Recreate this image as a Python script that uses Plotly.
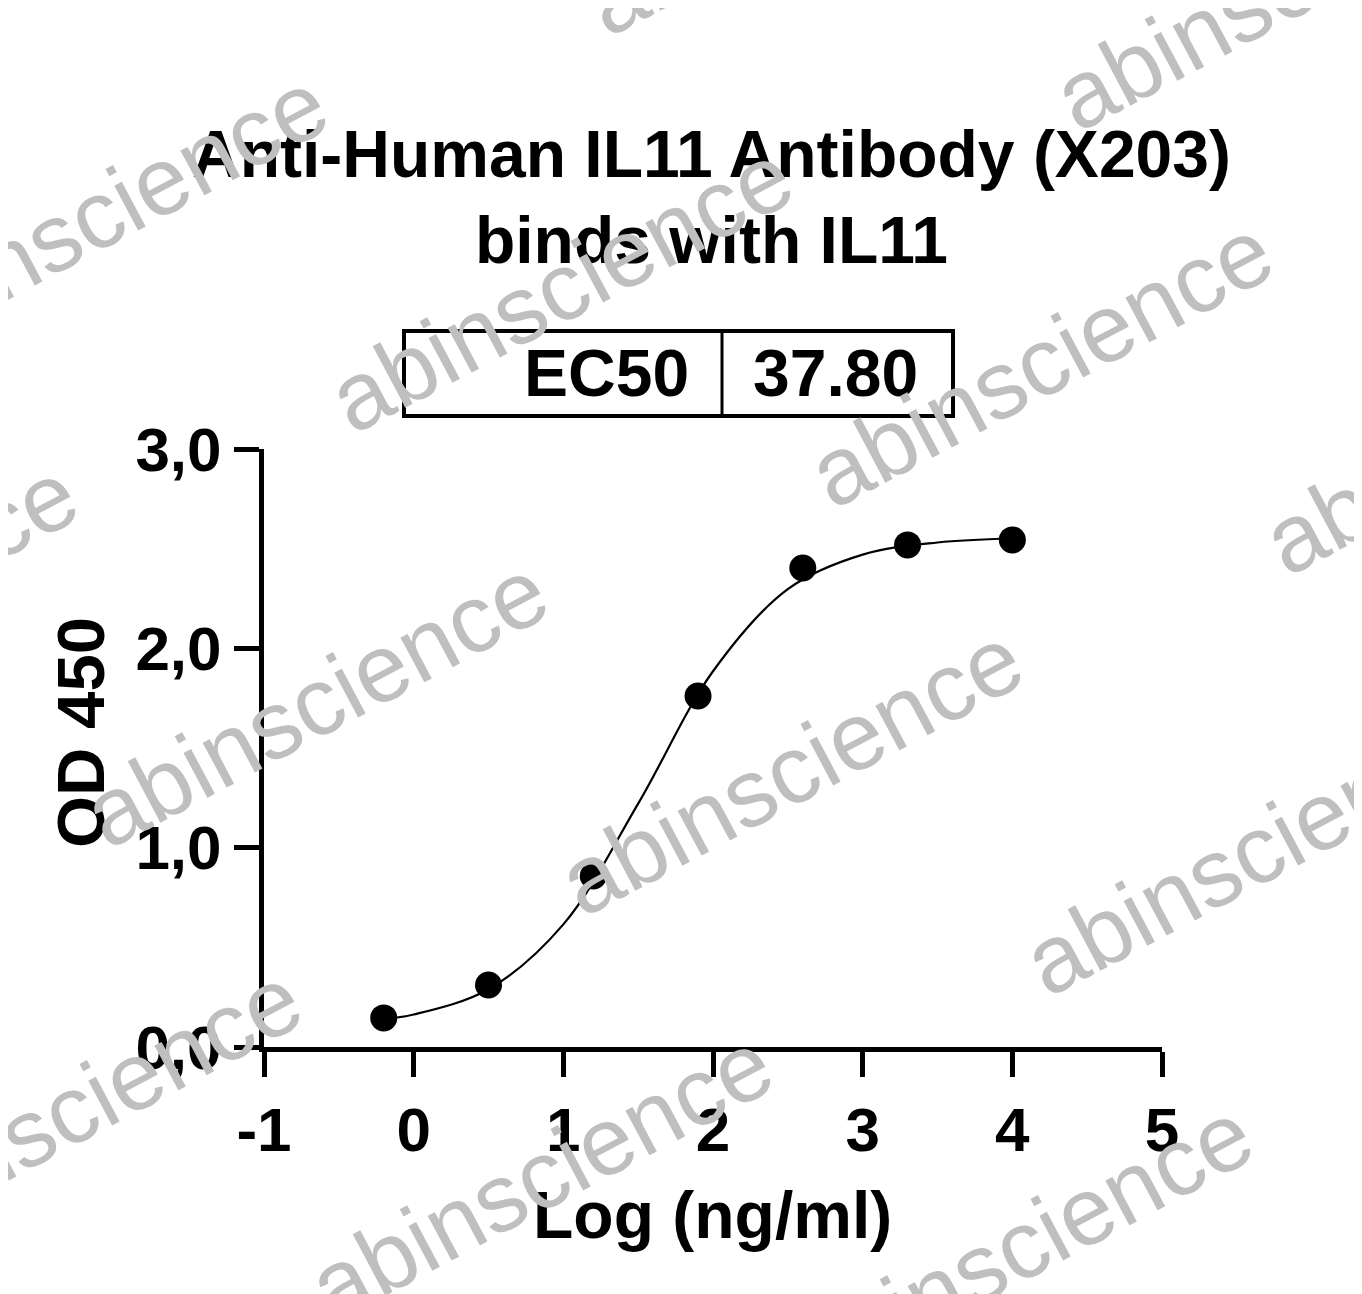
import plotly.graph_objects as go

# measured points (log concentration vs OD450)
log_conc = [-0.2, 0.5, 1.2, 1.9, 2.6, 3.3, 4.0]
od450 = [0.146, 0.311, 0.858, 1.761, 2.403, 2.519, 2.544]

# fitted curve
curve_x = [-0.2, 0.0, 0.5, 1.0, 1.5, 2.0, 2.5, 3.0, 3.5, 4.0]
curve_y = [0.140, 0.163, 0.290, 0.615, 1.221, 1.885, 2.297, 2.470, 2.531, 2.551]

x_ticks = [-1, 0, 1, 2, 3, 4, 5]
x_ticklabels = ["-1", "0", "1", "2", "3", "4", "5"]
y_ticks = [0, 1, 2, 3]
y_ticklabels = ["0,0", "1,0", "2,0", "3,0"]

ec50_label = "EC50"
ec50_value = "37.80"

# page has an 8px body margin, so everything is laid out in page pixels minus 8
OFF = 8
W, H = 1362 - OFF, 1294 - OFF
L, R, T, B = 264, 1162, 449, 1047


def px(x, y):
    # page pixel position -> paper coords
    return (x - L) / (R - L), (B - y) / (B - T)


fig = go.Figure()
fig.add_trace(go.Scatter(x=curve_x, y=curve_y, mode="lines", line=dict(color="black", width=2.2, shape="spline"),
                         showlegend=False, hoverinfo="skip"))
fig.add_trace(go.Scatter(x=log_conc, y=od450, mode="markers", marker=dict(color="black", size=27),
                         showlegend=False, cliponaxis=False))

font_b = "Liberation Sans"

annotations = []
tx, ty = px(711, 197)
annotations.append(dict(x=tx, y=ty, xref="paper", yref="paper", showarrow=False,
                        text="<b>Anti-Human IL11 Antibody (X203)<br>binds with IL11</b>",
                        font=dict(family=font_b, size=66, color="black"), xanchor="center", yanchor="middle"))
ax_, ay_ = px(80, 733)
annotations.append(dict(x=ax_, y=ay_, xref="paper", yref="paper", showarrow=False, textangle=-90,
                        text="<b>OD 450</b>", font=dict(family=font_b, size=67, color="black"),
                        xanchor="center", yanchor="middle"))
bx, by = px(712, 1215)
annotations.append(dict(x=bx, y=by, xref="paper", yref="paper", showarrow=False,
                        text="<b>Log (ng/ml)</b>", font=dict(family=font_b, size=66, color="black"),
                        xanchor="center", yanchor="middle"))
ex, ey = px(691, 373)
annotations.append(dict(x=ex, y=ey, xref="paper", yref="paper", showarrow=False,
                        text="<b>" + ec50_label + "</b>", font=dict(family=font_b, size=66, color="black"),
                        xanchor="right", yanchor="middle"))
vx, vy = px(835, 373)
annotations.append(dict(x=vx, y=vy, xref="paper", yref="paper", showarrow=False,
                        text="<b>" + ec50_value + "</b>", font=dict(family=font_b, size=66, color="black"),
                        xanchor="center", yanchor="middle"))

# watermark centres (page pixels)
wm = [(560, 287), (1040, 362), (95, 215), (1285, -15), (815, -110), (-155, 605), (315, 702),
      (790, 770), (1495, 430), (1255, 850), (69, 1110), (540, 1175), (1020, 1245)]
for cx, cy in wm:
    wx, wy = px(cx, cy)
    annotations.append(dict(x=wx, y=wy, xref="paper", yref="paper", showarrow=False, textangle=-28,
                            text="abinscience", font=dict(family="Liberation Sans", size=96, color="#bfbfbf"),
                            xanchor="center", yanchor="middle"))

x0, y0 = px(404, 416)
x1, y1 = px(953, 331)
xm, _ = px(722, 0)
shapes = [
    dict(type="rect", xref="paper", yref="paper", x0=x0, y0=y0, x1=x1, y1=y1, line=dict(color="black", width=4)),
    dict(type="line", xref="paper", yref="paper", x0=xm, y0=y0, x1=xm, y1=y1, line=dict(color="black", width=3)),
]

fig.update_layout(
    width=W, height=H,
    margin=dict(l=L - OFF, r=W - (R - OFF), t=T - OFF, b=H - (B - OFF)),
    plot_bgcolor="white", paper_bgcolor="white",
    annotations=annotations, shapes=shapes,
    xaxis=dict(range=[-1, 5], tickvals=x_ticks, ticktext=x_ticklabels, ticks="outside", ticklen=25, tickwidth=5,
               tickcolor="black", showline=True, linewidth=5, linecolor="black", showgrid=False, zeroline=False,
               tickfont=dict(family=font_b, size=62, color="black", weight="bold")),
    yaxis=dict(range=[0, 3], tickvals=y_ticks, ticktext=y_ticklabels, ticks="outside", ticklen=25, tickwidth=5,
               tickcolor="black", showline=True, linewidth=5, linecolor="black", showgrid=False, zeroline=False,
               tickfont=dict(family=font_b, size=62, color="black", weight="bold")),
)

fig.write_html("out.html")
